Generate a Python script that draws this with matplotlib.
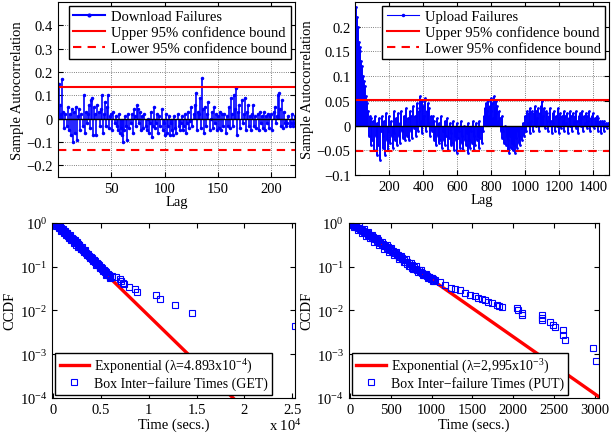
import numpy as np
import matplotlib
matplotlib.use('Agg')
import matplotlib.pyplot as plt
from matplotlib.lines import Line2D
from matplotlib.ticker import FuncFormatter, FixedLocator, LogLocator, NullLocator

plt.rcParams['font.family'] = ['Liberation Serif', 'DejaVu Serif']
plt.rcParams['mathtext.fontset'] = 'custom'
plt.rcParams['mathtext.rm'] = 'Liberation Serif'
plt.rcParams['mathtext.it'] = 'Liberation Serif:italic'
plt.rcParams['font.size'] = 10.5
plt.rcParams['xtick.direction'] = 'in'
plt.rcParams['ytick.direction'] = 'in'
plt.rcParams['xtick.top'] = True
plt.rcParams['ytick.right'] = True

# sample autocorrelation, download failures (lag 0..222)
dl_acf = [1.0, 0.15, 0.06, 0.02, 0.17, 0.03, -0.04, 0.02, -0.03, 0.05,
          -0.05, 0.02, -0.07, 0.04, -0.10, 0.03, -0.06, 0.05, -0.09, 0.01,
          0.04, -0.05, 0.02, -0.03, 0.10, -0.06, 0.03, -0.02, 0.02, 0.06,
          -0.04, 0.08, 0.09, -0.07, 0.05, 0.02, -0.07, 0.06, 0.03, -0.03,
          0.04, 0.10, -0.06, 0.02, 0.07, -0.03, 0.05, 0.10, -0.04, 0.01,
          0.02, -0.05, 0.03, -0.02, 0.01, -0.03, -0.05, 0.02, -0.06, -0.04,
          -0.07, -0.10, -0.05, 0.01, -0.03, -0.09, 0.02, -0.04, -0.02, 0.02,
          -0.06, 0.04, 0.01, -0.03, 0.06, 0.04, -0.02, 0.03, -0.05, 0.01,
          -0.04, 0.02, -0.03, -0.05, 0.00, -0.06, -0.02, 0.03, -0.08, -0.03,
          0.05, -0.04, -0.02, 0.02, -0.06, 0.01, -0.03, 0.04, -0.05, -0.02,
          -0.07, 0.02, -0.06, -0.03, 0.01, -0.07, -0.02, -0.05, -0.07, 0.01,
          -0.04, -0.06, 0.02, -0.03, -0.05, -0.02, 0.01, -0.05, -0.03, 0.02,
          -0.06, -0.02, 0.03, -0.04, -0.01, 0.05, -0.03, 0.02, 0.06, 0.11,
          -0.05, 0.03, 0.02, 0.09, -0.04, 0.175, 0.04, -0.06, 0.05, -0.03,
          0.02, 0.07, -0.05, 0.00, 0.03, -0.04, 0.05, -0.02, 0.02, -0.05,
          0.01, -0.04, 0.03, -0.05, 0.02, -0.03, 0.02, -0.06, 0.01, -0.03,
          0.05, -0.04, 0.09, 0.02, -0.03, 0.10, 0.04, 0.13, -0.07, 0.03,
          0.06, -0.04, 0.08, -0.02, 0.02, 0.09, -0.05, 0.03, 0.06, -0.03,
          0.01, -0.05, 0.02, 0.06, -0.03, 0.01, -0.04, 0.02, -0.05, 0.03,
          -0.02, 0.01, -0.04, 0.03, -0.05, 0.01, -0.02, 0.02, -0.04, 0.01,
          0.02, -0.05, 0.03, 0.05, -0.02, 0.01, 0.10, 0.11, 0.04, -0.03,
          0.08, -0.04, 0.03, -0.02, -0.03, -0.02, 0.01, -0.03, -0.02, 0.02,
          -0.03, -0.02, 0.01]
dl_bound = 0.134

# sample autocorrelation, upload failures (every 5th lag, 0..1485)
ul_step = 5
ul_acf = [1.0, 0.24, 0.22, 0.2, 0.17, 0.15, 0.16, 0.13, 0.12, 0.1,
          0.09, 0.08, 0.06, 0.05, 0.045, 0.03, -0.02, 0.02, -0.04, 0.015,
          -0.03, 0.01, -0.05, 0.02, -0.02, -0.06, 0.005, -0.04, 0.015, -0.07,
          -0.01, 0.02, -0.045, -0.02, 0.01, -0.06, 0.025, -0.03, -0.01, -0.05,
          0.02, -0.035, 0.01, -0.02, -0.045, 0.03, -0.015, -0.03, 0.015, -0.04,
          0.025, -0.02, 0.005, -0.035, 0.03, -0.01, -0.025, 0.02, -0.03, 0.01,
          0.035, -0.02, 0.015, -0.03, 0.03, -0.01, 0.02, -0.025, 0.04, -0.005,
          0.02, -0.02, 0.035, 0.045, -0.01, 0.03, 0.06, 0.01, 0.05, -0.015,
          0.04, 0.02, 0.055, -0.01, 0.03, 0.045, 0.005, 0.035, -0.02, 0.02,
          -0.01, 0.02, -0.03, 0.01, -0.025, -0.04, 0.015, -0.02, -0.035, 0.005,
          -0.03, 0.02, -0.045, -0.01, -0.03, 0.01, -0.04, -0.02, 0.015, -0.05,
          -0.025, 0.005, -0.04, -0.015, -0.035, 0.01, -0.05, -0.02, -0.03, 0.005,
          -0.055, -0.025, -0.01, -0.045, 0.01, -0.035, -0.02, -0.05, 0.0, -0.03,
          -0.04, -0.015, -0.055, 0.005, -0.03, -0.045, -0.01, -0.035, 0.01, -0.05,
          -0.02, -0.04, 0.005, -0.03, -0.02, -0.045, 0.01, -0.025, -0.01, -0.035,
          -0.01, 0.02, 0.035, 0.01, 0.045, 0.03, 0.05, 0.02, 0.04, 0.055,
          0.03, 0.045, 0.015, 0.06, 0.035, 0.05, 0.025, 0.04, 0.01, 0.03,
          0.015, -0.01, 0.02, -0.025, -0.01, -0.035, 0.0, -0.04, -0.02, -0.05,
          -0.03, -0.055, -0.02, -0.045, -0.035, -0.05, -0.015, -0.04, -0.055, -0.025,
          -0.045, -0.01, -0.035, -0.02, -0.04, -0.005, -0.03, 0.005, -0.02, -0.01,
          0.02, -0.01, 0.03, 0.005, 0.025, -0.015, 0.035, 0.01, 0.03, -0.01,
          0.025, 0.04, 0.0, 0.03, 0.015, 0.035, -0.01, 0.025, 0.04, 0.01,
          0.05, 0.02, 0.035, -0.005, 0.03, 0.01, 0.025, -0.01, 0.02, 0.035,
          0.01, -0.015, 0.025, 0.005, 0.03, -0.01, 0.02, 0.0, 0.035, -0.015,
          0.015, 0.025, -0.005, 0.02, 0.01, 0.03, -0.01, 0.02, 0.005, 0.025,
          -0.015, 0.015, 0.03, 0.0, 0.02, -0.01, 0.025, 0.01, 0.02, -0.005,
          0.03, 0.01, -0.015, 0.02, 0.025, 0.0, 0.015, 0.03, -0.01, 0.02,
          0.005, 0.025, -0.005, 0.02, 0.01, 0.03, -0.01, 0.015, 0.02, 0.0,
          0.025, -0.005, 0.015, 0.01, 0.02, -0.01, 0.015, 0.005, 0.01, -0.015,
          0.01, 0.005, -0.01, 0.01, 0.0, 0.005, -0.005, 0.005]
ul_bound = 0.052

# inter-failure times (secs) and their CCDF, GET
get_t = [0, 60, 150, 250, 350, 450, 560, 680, 800, 920, 1050, 1180, 1300, 1420,
         1550, 1680, 1800, 1930, 2060, 2200, 2330, 2450, 2560, 2680, 2800, 2950,
         3100, 3250, 3400, 3560, 3720, 3880, 4050, 4220, 4400, 4580, 4760, 4940,
         5120, 5300, 5480, 5650, 5820, 5980,
         100, 300, 500, 620, 740, 860, 1000, 1120, 1240, 1360, 1480, 1620, 1740,
         1870, 2000, 2130, 2270, 2400, 2520, 2620, 2740, 2870, 3020, 3180, 3330,
         3480, 3640, 3800, 3970, 4140, 4310, 4490, 4670, 4850, 5030, 5210, 5390,
         5560, 5730, 5900,
         30, 200, 400, 520, 650, 770, 890, 1020, 1150, 1270, 1390, 1520, 1650,
         1770, 1900, 2030, 2170, 2300, 2420, 2540, 2650, 2770, 2910, 3060, 3210,
         3360, 3520, 3680, 3840, 4010, 4180, 4350, 4530, 4710, 4890, 5070, 5250,
         5430, 5600, 5770, 5940,
         6120, 6540, 6990, 7065, 7275, 7410, 7935, 8565, 8740, 10770, 11190,
         12760, 14510, 25340]
get_ccdf = [1.0, 0.977, 0.955, 0.912, 0.891, 0.851, 0.813, 0.759, 0.724, 0.692,
            0.646, 0.603, 0.569, 0.537, 0.501, 0.479, 0.447, 0.427, 0.398, 0.380,
            0.355, 0.339, 0.324, 0.302, 0.282, 0.257, 0.240, 0.221, 0.207, 0.191,
            0.178, 0.164, 0.151, 0.138, 0.127, 0.116, 0.107, 0.0977, 0.0891,
            0.0813, 0.075, 0.0692, 0.0646, 0.061,
            0.986, 0.863, 0.92, 0.738, 0.838, 0.656, 0.737, 0.578, 0.655, 0.514,
            0.583, 0.453, 0.513, 0.401, 0.452, 0.352, 0.406, 0.309, 0.358, 0.277,
            0.315, 0.245, 0.274, 0.211, 0.236, 0.182, 0.198, 0.156, 0.168, 0.132,
            0.1426, 0.111, 0.117, 0.0931, 0.098, 0.0782, 0.0804, 0.0658, 0.0664,
            0.0557,
            0.99, 0.97, 0.923, 0.870, 0.817, 0.770, 0.726, 0.681, 0.639, 0.603,
            0.568, 0.533, 0.500, 0.472, 0.443, 0.416, 0.397, 0.372, 0.352, 0.331,
            0.307, 0.283, 0.264, 0.245, 0.228, 0.212, 0.196, 0.181, 0.1675, 0.154,
            0.142, 0.1306, 0.1195, 0.1096, 0.0991, 0.0908, 0.0831, 0.0752, 0.0692,
            0.0637, 0.0586,
            0.062, 0.058, 0.053, 0.047, 0.043, 0.039, 0.035, 0.031, 0.0265,
            0.022, 0.0178, 0.0133, 0.0088, 0.0044]
get_lam = 4.893e-4

# inter-failure times (secs) and their CCDF, PUT
put_t = [0, 15, 35, 55, 75, 100, 125, 150, 175, 200, 225, 250, 280, 310, 340,
         370, 400, 430, 460, 490, 520, 550, 580, 610, 640, 670, 700, 730, 760,
         790, 820, 850, 880, 910, 940, 970, 1000, 1020,
         25, 45, 65, 88, 112, 138, 162, 188, 212, 238, 265, 295, 325, 355, 385,
         415, 445, 475, 505, 535, 565, 595, 625, 655, 685, 715, 745, 775, 805,
         835, 865, 895, 925, 955, 985, 1010,
         5, 30, 50, 70, 95, 118, 144, 168, 194, 218, 245, 272, 302, 332, 362,
         392, 422, 452, 482, 512, 542, 572, 602, 632, 662, 692, 722, 752, 782,
         812, 842, 872, 902, 932, 962, 992, 1030,
         1040, 1102, 1163, 1237, 1286, 1348, 1409, 1471, 1532, 1573, 1614, 1655,
         1696, 1737, 1798, 1827, 1860, 2044, 2064, 2105, 2113, 2351, 2351, 2359,
         2453, 2494, 2515, 2617, 2617, 2638, 2985, 3015]
put_ccdf = [1.0, 0.955, 0.902, 0.851, 0.813, 0.759, 0.708, 0.653, 0.610, 0.569,
            0.531, 0.496, 0.462, 0.427, 0.398, 0.363, 0.331, 0.302, 0.275, 0.251,
            0.226, 0.204, 0.182, 0.162, 0.145, 0.129, 0.112, 0.102, 0.0933,
            0.0871, 0.0813, 0.0759, 0.0708, 0.0653, 0.0610, 0.0569, 0.0537, 0.0513,
            0.994, 0.779, 0.967, 0.685, 0.840, 0.589, 0.723, 0.508, 0.623, 0.437,
            0.531, 0.368, 0.444, 0.308, 0.371, 0.257, 0.310, 0.215, 0.259, 0.1795,
            0.2163, 0.150, 0.1766, 0.1253, 0.1476, 0.1047, 0.1205, 0.0895, 0.1007,
            0.0748, 0.0822, 0.064, 0.0687, 0.0535, 0.0561, 0.0464,
            0.985, 0.935, 0.881, 0.830, 0.770, 0.719, 0.665, 0.619, 0.573, 0.533,
            0.491, 0.453, 0.414, 0.379, 0.346, 0.316, 0.289, 0.264, 0.2415, 0.221,
            0.2018, 0.1845, 0.1687, 0.154, 0.141, 0.129, 0.118, 0.1076, 0.0984,
            0.090, 0.0822, 0.0752, 0.0687, 0.0628, 0.0574, 0.0525, 0.0468,
            0.0499, 0.0442, 0.037, 0.0328, 0.030, 0.0285, 0.0252, 0.0227, 0.0212,
            0.0194, 0.0184, 0.0169, 0.0155, 0.0147, 0.0135, 0.0126, 0.0119,
            0.01135, 0.010, 0.0087, 0.008, 0.0077, 0.0068, 0.0061, 0.00545,
            0.00473, 0.0042, 0.0035, 0.0028, 0.0021, 0.00135, 0.00069]
put_lam = 2.995e-3

MINUS = '\u2212'


def fmt_g(v, pos):
    s = '%g' % v
    return s.replace('-', MINUS)


fig = plt.figure(figsize=(6.12, 4.39), dpi=100)
ax1 = fig.add_axes([0.0948, 0.5945, 0.387, 0.3986])
ax2 = fig.add_axes([0.5806, 0.599, 0.414, 0.394])
ax3 = fig.add_axes([0.085, 0.0911, 0.397, 0.3993])
ax4 = fig.add_axes([0.5698, 0.0911, 0.4085, 0.3993])

leg_kw = dict(fancybox=False, edgecolor='k', framealpha=1, borderaxespad=0.25,
              handlelength=2.2, borderpad=0.3, labelspacing=0.15, handletextpad=0.4)

# ---- top left: download ACF
lags = np.arange(len(dl_acf))
ax1.vlines(lags, 0, dl_acf, color='b', lw=1.2)
ax1.plot(lags, dl_acf, '.', color='b', ms=3)
ax1.axhline(0, color='k', lw=1)
ax1.axhline(dl_bound, color='r', lw=1.5)
ax1.axhline(-dl_bound, color='r', lw=1.5, ls=(0, (4, 3)))
ax1.set_xlim(0, 222)
ax1.set_ylim(-0.25, 0.5)
ax1.xaxis.set_major_locator(FixedLocator([50, 100, 150, 200]))
ax1.yaxis.set_major_locator(FixedLocator([-0.2, -0.1, 0, 0.1, 0.2, 0.3, 0.4]))
ax1.yaxis.set_major_formatter(FuncFormatter(fmt_g))
ax1.grid(True, ls=':', color='0.35', lw=0.6)
ax1.set_axisbelow(True)
ax1.set_xlabel('Lag', labelpad=0)
ax1.set_ylabel('Sample Autocorrelation', labelpad=2)
h1 = [Line2D([], [], color='b', lw=1.5, marker='.', ms=4),
      Line2D([], [], color='r', lw=1.5),
      Line2D([], [], color='r', lw=1.5, ls=(0, (4, 3)))]
ax1.legend(h1, ['Download Failures', 'Upper 95% confidence bound',
                'Lower 95% confidence bound'], loc='upper right', **leg_kw)

# ---- top right: upload ACF
ul_lags = np.arange(len(ul_acf)) * ul_step
ax2.vlines(ul_lags, 0, ul_acf, color='b', lw=1.4)
ax2.plot(ul_lags, ul_acf, '.', color='b', ms=2)
ax2.axhline(0, color='k', lw=1)
ax2.axhline(ul_bound, color='r', lw=1.5)
ax2.axhline(-ul_bound, color='r', lw=1.5, ls=(0, (4, 3)))
ax2.set_xlim(0, 1490)
ax2.set_ylim(-0.1, 0.25)
ax2.xaxis.set_major_locator(FixedLocator([200, 400, 600, 800, 1000, 1200, 1400]))
ax2.yaxis.set_major_locator(FixedLocator([-0.1, -0.05, 0, 0.05, 0.1, 0.15, 0.2]))
ax2.yaxis.set_major_formatter(FuncFormatter(fmt_g))
ax2.grid(True, ls=':', color='0.35', lw=0.6)
ax2.set_axisbelow(True)
ax2.set_xlabel('Lag', labelpad=0)
ax2.set_ylabel('Sample Autocorrelation', labelpad=2)
h2 = [Line2D([], [], color='b', lw=0.8, marker='.', ms=3),
      Line2D([], [], color='r', lw=1.5),
      Line2D([], [], color='r', lw=1.5, ls=(0, (4, 3)))]
ax2.legend(h2, ['Upload Failures', 'Upper 95% confidence bound',
                'Lower 95% confidence bound'], loc='upper right', **leg_kw)


def ccdf_panel(ax, t, c, lam, xmax, xmin, label_fit, label_data):
    tf = np.array([0.0, xmax])
    ax.plot(tf, np.exp(-lam * tf), color='r', lw=2.4)
    ax.plot(t, c, ls='none', marker='s', ms=4.2, mfc='none', mec='b', mew=0.8)
    ax.set_yscale('log')
    ax.set_ylim(1e-4, 1)
    ax.set_xlim(xmin, xmax)
    ax.yaxis.set_major_locator(LogLocator(base=10, numticks=10))
    ax.yaxis.set_minor_locator(NullLocator())
    ax.set_ylabel('CCDF', labelpad=2)
    ax.set_xlabel('Time (secs.)', labelpad=1)
    hh = [Line2D([], [], color='r', lw=2.4),
          Line2D([], [], ls='none', marker='s', ms=4.2, mfc='none', mec='b', mew=0.8)]
    ax.legend(hh, [label_fit, label_data], loc='lower left',
              **dict(leg_kw, fontsize=10, handlelength=2.1, labelspacing=0.1))


# ---- bottom left: GET
ccdf_panel(ax3, get_t, get_ccdf, get_lam, 25300, -130,
           'Exponential (\u03bb=4.893x10$^{' + MINUS + '4}$)',
           'Box Inter' + MINUS + 'failure Times (GET)')
ax3.xaxis.set_major_locator(FixedLocator([0, 5000, 10000, 15000, 20000, 25000]))
ax3.xaxis.set_major_formatter(FuncFormatter(lambda v, p: '%g' % (v / 1e4)))
ax3.text(0.893, -0.11, 'x 10$^{4}$', transform=ax3.transAxes, ha='left', va='top')

# ---- bottom right: PUT
ccdf_panel(ax4, put_t, put_ccdf, put_lam, 3051, -20,
           'Exponential (\u03bb=2,995x10$^{' + MINUS + '3}$)',
           'Box Inter' + MINUS + 'failure Times (PUT)')
ax4.xaxis.set_major_locator(FixedLocator([0, 500, 1000, 1500, 2000, 2500, 3000]))

fig.savefig('out.png', dpi=100)
